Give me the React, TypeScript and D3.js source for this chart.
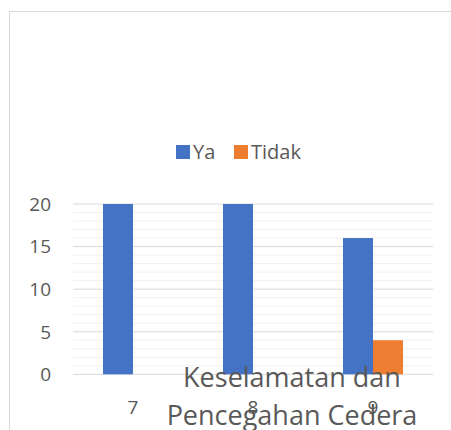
import { useEffect } from "react";
import * as d3 from "d3";

const categories = ["7", "8", "9"];
const seriesNames = ["Ya", "Tidak"];
const yaValues = [20, 20, 16];
const tidakValues = [0, 0, 4];
const yTicks = [0, 5, 10, 15, 20];
const axisTitle = ["Keselamatan dan", "Pencegahan Cedera"];

const colors = ["#4472C4", "#ED7D31"];
const font = "'Open Sans', 'Noto Sans', sans-serif";
const textColor = "#595959";

const W = 451;
const H = 430;

export default function App() {
  useEffect(() => {
    document.body.style.margin = "0";
  }, []);

  const x = d3.scaleBand<string>().domain(categories).range([73, 433]);
  const y = d3.scaleLinear().domain([0, 20]).range([374.3, 204]);
  const inner = d3
    .scaleBand<string>()
    .domain(seriesNames)
    .range([0, x.bandwidth()])
    .paddingInner(0)
    .paddingOuter(1);

  const minor = d3.range(0, 21, 1).filter((v) => v % 5 !== 0);
  const series = [yaValues, tidakValues];

  return (
    <svg width={W} height={H} style={{ display: "block", background: "#fff" }}>
      <rect x={9.5} y={11.5} width={460} height={440} fill="#fff" stroke="#d9d9d9" strokeWidth={1} />

      {/* minor gridlines */}
      {minor.map((v) => (
        <line key={"m" + v} x1={73} x2={433} y1={y(v)} y2={y(v)} stroke="#f0f0f0" strokeWidth={1} />
      ))}
      {/* major gridlines */}
      {yTicks.map((v) => (
        <line key={"M" + v} x1={73} x2={433} y1={y(v)} y2={y(v)} stroke="#d9d9d9" strokeWidth={1} />
      ))}

      {/* y labels */}
      {yTicks.map((v) => (
        <text
          key={"t" + v}
          x={51}
          y={y(v)}
          dy="0.36em"
          textAnchor="end"
          fontFamily={font}
          fontSize={19}
          fill={textColor}
        >
          {v}
        </text>
      ))}

      {/* bars */}
      {series.map((vals, si) =>
        categories.map((c, ci) =>
          vals[ci] > 0 ? (
            <rect
              key={si + "-" + c}
              x={(x(c) ?? 0) + (inner(seriesNames[si]) ?? 0)}
              y={y(vals[ci])}
              width={inner.bandwidth()}
              height={y(0) - y(vals[ci])}
              fill={colors[si]}
            />
          ) : null
        )
      )}

      {/* x tick labels */}
      {categories.map((c) => (
        <text
          key={"x" + c}
          x={(x(c) ?? 0) + x.bandwidth() / 2}
          y={414}
          textAnchor="middle"
          fontFamily={font}
          fontSize={19}
          fill={textColor}
        >
          {c}
        </text>
      ))}

      {/* axis title */}
      {axisTitle.map((t, i) => (
        <text
          key={"a" + i}
          x={292}
          y={386.5 + i * 38.5}
          textAnchor="middle"
          fontFamily={font}
          fontSize={27}
          fill={textColor}
        >
          {t}
        </text>
      ))}

      {/* legend */}
      <rect x={176} y={145} width={14} height={14} fill={colors[0]} />
      <text x={193} y={159} fontFamily={font} fontSize={20} fill={textColor}>
        {seriesNames[0]}
      </text>
      <rect x={234} y={145} width={14} height={14} fill={colors[1]} />
      <text x={251} y={159} fontFamily={font} fontSize={20} fill={textColor}>
        {seriesNames[1]}
      </text>
    </svg>
  );
}
